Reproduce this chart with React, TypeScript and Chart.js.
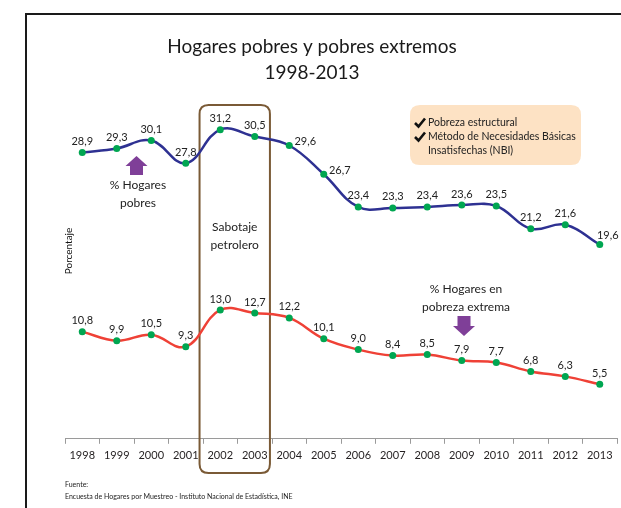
import React, { useEffect, useRef } from "react";
import { Chart, registerables } from "chart.js";

Chart.register(...registerables);

const years = ["1998","1999","2000","2001","2002","2003","2004","2005","2006","2007","2008","2009","2010","2011","2012","2013"];
const pobres = [28.9, 29.3, 30.1, 27.8, 31.2, 30.5, 29.6, 26.7, 23.4, 23.3, 23.4, 23.6, 23.5, 21.2, 21.6, 19.6];
const extremos = [10.8, 9.9, 10.5, 9.3, 13.0, 12.7, 12.2, 10.1, 9.0, 8.4, 8.5, 7.9, 7.7, 6.8, 6.3, 5.5];
const titleLines = ["Hogares pobres y pobres extremos", "1998-2013"];
const infoLines = ["Pobreza estructural", "Método de Necesidades Básicas", "Insatisfechas (NBI)"];
const sourceLines = ["Fuente:", "Encuesta de Hogares por Muestreo - Instituto Nacional de Estadística, INE"];

const FONT = "Lato, 'DejaVu Sans', sans-serif";
const fmt = (v: number) => v.toFixed(1).replace(".", ",");

function roundRect(ctx: CanvasRenderingContext2D, x: number, y: number, w: number, h: number, r: number) {
  ctx.beginPath();
  ctx.moveTo(x + r, y);
  ctx.lineTo(x + w - r, y);
  ctx.quadraticCurveTo(x + w, y, x + w, y + r);
  ctx.lineTo(x + w, y + h - r);
  ctx.quadraticCurveTo(x + w, y + h, x + w - r, y + h);
  ctx.lineTo(x + r, y + h);
  ctx.quadraticCurveTo(x, y + h, x, y + h - r);
  ctx.lineTo(x, y + r);
  ctx.quadraticCurveTo(x, y, x + r, y);
  ctx.closePath();
}

function arrow(ctx: CanvasRenderingContext2D, cx: number, tipY: number, baseY: number, endY: number, headHalf: number, shaftHalf: number) {
  ctx.beginPath();
  ctx.moveTo(cx, tipY);
  ctx.lineTo(cx + headHalf, baseY);
  ctx.lineTo(cx + shaftHalf, baseY);
  ctx.lineTo(cx + shaftHalf, endY);
  ctx.lineTo(cx - shaftHalf, endY);
  ctx.lineTo(cx - shaftHalf, baseY);
  ctx.lineTo(cx - headHalf, baseY);
  ctx.closePath();
  ctx.fill();
}

function check(ctx: CanvasRenderingContext2D, x: number, y: number) {
  ctx.beginPath();
  ctx.moveTo(x, y);
  ctx.lineTo(x + 3.5, y + 3.5);
  ctx.lineTo(x + 10, y - 4.5);
  ctx.stroke();
}

const decorPlugin = {
  id: "decor",
  beforeDatasetsDraw(chart: any) {
    const ctx: CanvasRenderingContext2D = chart.ctx;
    const x = chart.scales.x;
    const step = x.getPixelForValue(1) - x.getPixelForValue(0);
    ctx.save();
    // frame
    ctx.strokeStyle = "#1a1a1a";
    ctx.lineWidth = 2;
    ctx.beginPath();
    ctx.moveTo(26, 508);
    ctx.lineTo(26, 14);
    ctx.lineTo(621, 14);
    ctx.stroke();
    // title
    ctx.fillStyle = "#1a1a1a";
    ctx.textAlign = "center";
    ctx.textBaseline = "middle";
    ctx.font = `19px ${FONT}`;
    ctx.fillText(titleLines[0], 312, 47);
    ctx.fillText(titleLines[1], 312, 73);
    // sabotaje box
    const bl = x.getPixelForValue(4) - 0.6 * step;
    const br = x.getPixelForValue(5) + 0.44 * step;
    ctx.strokeStyle = "#7a5a36";
    ctx.lineWidth = 2;
    roundRect(ctx, bl, 105, br - bl, 368, 9);
    ctx.stroke();
    ctx.font = `12px ${FONT}`;
    ctx.fillStyle = "#222";
    ctx.fillText("Sabotaje", (bl + br) / 2, 227);
    ctx.fillText("petrolero", (bl + br) / 2, 245);
    // info box
    ctx.fillStyle = "#fde2c4";
    roundRect(ctx, 410, 105, 171, 60, 10);
    ctx.fill();
    ctx.fillStyle = "#222";
    ctx.textAlign = "left";
    ctx.font = `10.5px ${FONT}`;
    ctx.fillText(infoLines[0], 428, 123);
    ctx.fillText(infoLines[1], 428, 137);
    ctx.fillText(infoLines[2], 428, 151);
    ctx.strokeStyle = "#111";
    ctx.lineWidth = 2.6;
    ctx.lineJoin = "miter";
    check(ctx, 415, 123);
    check(ctx, 415, 137);
    // arrows + labels
    ctx.fillStyle = "#7f3f98";
    arrow(ctx, 136.5, 156, 166, 175, 11, 6.5);
    arrow(ctx, 464, 336, 326, 316, 11, 6.5);
    ctx.fillStyle = "#222";
    ctx.textAlign = "center";
    ctx.font = `12px ${FONT}`;
    ctx.fillText("% Hogares", 138, 185);
    ctx.fillText("pobres", 138, 203);
    ctx.fillText("% Hogares en", 466, 289);
    ctx.fillText("pobreza extrema", 466, 307);
    // y label
    ctx.save();
    ctx.translate(69, 251);
    ctx.rotate(-Math.PI / 2);
    ctx.font = `10px ${FONT}`;
    ctx.fillStyle = "#111";
    ctx.fillText("Porcentaje", 0, 0);
    ctx.restore();
    // source
    ctx.textAlign = "left";
    ctx.font = `7px ${FONT}`;
    ctx.fillText(sourceLines[0], 65, 485);
    ctx.fillText(sourceLines[1], 65, 497);
    ctx.restore();
  },
  afterDatasetsDraw(chart: any) {
    const ctx: CanvasRenderingContext2D = chart.ctx;
    ctx.save();
    ctx.fillStyle = "#222";
    ctx.font = `11px ${FONT}`;
    ctx.textBaseline = "middle";
    ctx.textAlign = "center";
    chart.data.datasets.forEach((ds: any, di: number) => {
      const meta = chart.getDatasetMeta(di);
      meta.data.forEach((pt: any, i: number) => {
        const v = ds.data[i];
        let dx = 0;
        let dy = -11;
        if (di === 0 && (i === 6 || i === 7)) {
          dx = 16;
          dy = -4;
        } else if (di === 0 && i === ds.data.length - 1) {
          dx = 8;
          dy = -9;
        }
        ctx.fillText(fmt(v), pt.x + dx, pt.y + dy);
      });
    });
    ctx.restore();
  },
};

export default function App() {
  const ref = useRef<HTMLCanvasElement>(null);
  useEffect(() => {
    if (!ref.current) return;
    const chart = new Chart(ref.current, {
      type: "line",
      data: {
        labels: years,
        datasets: [
          {
            data: pobres,
            borderColor: "#2e3192",
            borderWidth: 2.5,
            tension: 0.4,
            pointRadius: 3.5,
            pointBackgroundColor: "#00a651",
            pointBorderWidth: 0,
            fill: false,
          },
          {
            data: extremos,
            borderColor: "#ef4136",
            borderWidth: 2.5,
            tension: 0.4,
            pointRadius: 3.5,
            pointBackgroundColor: "#00a651",
            pointBorderWidth: 0,
            fill: false,
          },
        ],
      },
      options: {
        responsive: false,
        animation: false,
        devicePixelRatio: 1,
        layout: { padding: { left: 65, right: 4, top: 92, bottom: 41 } },
        plugins: { legend: { display: false }, tooltip: { enabled: false }, title: { display: false } },
        scales: {
          x: {
            offset: true,
            grid: { display: true, offset: true, drawOnChartArea: false, drawTicks: true, tickLength: 5, color: "#9a9a9a" },
            border: { display: true, color: "#9a9a9a", width: 1 },
            ticks: { color: "#231f20", font: { family: FONT, size: 11 }, padding: 5, maxRotation: 0, autoSkip: false },
          },
          y: { display: false, min: 0, max: 35 },
        },
      },
      plugins: [decorPlugin],
    });
    return () => chart.destroy();
  }, []);
  return (
    <div style={{ position: "fixed", left: 0, top: 0, width: 621, height: 508, background: "#fff" }}>
      <canvas ref={ref} width={621} height={508} style={{ width: 621, height: 508, display: "block" }} />
    </div>
  );
}
